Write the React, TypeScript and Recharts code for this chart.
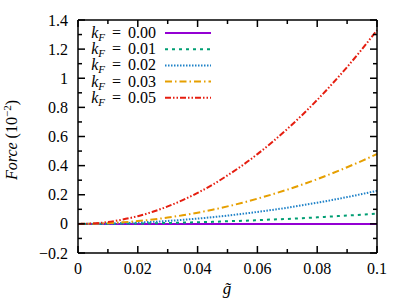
import React from "react";
import { LineChart, Line, XAxis, YAxis } from "recharts";

// g-tilde values and force curves (units of 1e-2)
const gValues = [0, 0.005, 0.01, 0.015, 0.02, 0.025, 0.03, 0.035, 0.04, 0.045, 0.05, 0.055, 0.06, 0.065, 0.07, 0.075, 0.08, 0.085, 0.09, 0.095, 0.1];
const force000 = [0, 0, 0, 0, 0, 0, 0, 0, 0, 0, 0, 0, 0, 0, 0, 0, 0, 0, 0, 0, 0];
const force001 = [0, 0, 0.001, 0.002, 0.003, 0.004, 0.006, 0.009, 0.011, 0.014, 0.018, 0.021, 0.025, 0.03, 0.034, 0.039, 0.045, 0.051, 0.057, 0.063, 0.07];
const force002 = [0, 0.001, 0.002, 0.005, 0.009, 0.014, 0.02, 0.028, 0.036, 0.046, 0.057, 0.069, 0.082, 0.096, 0.111, 0.128, 0.145, 0.164, 0.184, 0.205, 0.227];
const force003 = [0, 0.001, 0.005, 0.011, 0.019, 0.03, 0.043, 0.059, 0.077, 0.097, 0.12, 0.145, 0.173, 0.203, 0.235, 0.27, 0.307, 0.347, 0.389, 0.433, 0.48];
const force005 = [0, 0.003, 0.013, 0.03, 0.053, 0.083, 0.12, 0.163, 0.213, 0.269, 0.333, 0.402, 0.479, 0.562, 0.652, 0.748, 0.851, 0.961, 1.077, 1.2, 1.33];

const xMajor = [0, 0.02, 0.04, 0.06, 0.08, 0.1];
const xMinor = [0.01, 0.03, 0.05, 0.07, 0.09];
const yMajor = [-0.2, 0, 0.2, 0.4, 0.6, 0.8, 1, 1.2, 1.4];
const yMinor = [-0.1, 0.1, 0.3, 0.5, 0.7, 0.9, 1.1, 1.3];

const series = [
  { key: "k000", label: "0.00", values: force000, color: "#9400d3", dash: undefined },
  { key: "k001", label: "0.01", values: force001, color: "#009e73", dash: "3 4" },
  { key: "k002", label: "0.02", values: force002, color: "#1f82c8", dash: "1.5 1.5" },
  { key: "k003", label: "0.03", values: force003, color: "#e69f00", dash: "7 3 1.5 3" },
  { key: "k005", label: "0.05", values: force005, color: "#e51e10", dash: "6 2 1.5 2 1.5 2" },
];

const data = gValues.map((g, i) => {
  const row: Record<string, number> = { g };
  series.forEach((s) => {
    row[s.key] = s.values[i];
  });
  return row;
});

const FONT = "'Liberation Serif', 'DejaVu Serif', serif";
const W = 407;
const H = 305;
// plot box, matches the chart margins / axis sizes below
const PL = 78;
const PT = 20;
const PR = 377;
const PB = 253;
const X_DOMAIN = [0, 0.1];
const Y_DOMAIN = [-0.2, 1.4];
const sx = (v: number) => PL + ((v - X_DOMAIN[0]) / (X_DOMAIN[1] - X_DOMAIN[0])) * (PR - PL);
const sy = (v: number) => PB - ((v - Y_DOMAIN[0]) / (Y_DOMAIN[1] - Y_DOMAIN[0])) * (PB - PT);

const fmt = (v: number) => (v < 0 ? "\u2212" + String(-v) : String(v));

function BottomLabel(props: any) {
  const { x, y, payload } = props;
  return (
    <text x={x} y={y + 21} textAnchor="middle" fontSize={16} fontFamily={FONT} fill="#000">
      {fmt(payload.value)}
    </text>
  );
}

function LeftLabel(props: any) {
  const { x, y, payload } = props;
  return (
    <text x={x - 10} y={y + 5.5} textAnchor="end" fontSize={16} fontFamily={FONT} fill="#000">
      {fmt(payload.value)}
    </text>
  );
}

function YLabel() {
  return (
    <text
      transform="rotate(-90, 17, 140)"
      x={17}
      y={140}
      textAnchor="middle"
      fontSize={16}
      fontFamily={FONT}
      fill="#000"
    >
      <tspan fontStyle="italic">Force</tspan>
      <tspan> (10</tspan>
      <tspan fontSize={11} dy={-6}>{"\u2212"}2</tspan>
      <tspan dy={6}>)</tspan>
    </text>
  );
}

function XLabel() {
  return (
    <text x={227} y={294} textAnchor="middle" fontSize={17} fontFamily={FONT} fontStyle="italic" fill="#000">
      {"g\u0303"}
    </text>
  );
}

// one overlay: frame with inward mirrored ticks, plus the key
function Overlay() {
  return (
    <svg width={W} height={H} style={{ position: "absolute", left: 0, top: 0, pointerEvents: "none" }}>
      <g stroke="#000" strokeWidth={1.5}>
        {xMajor.concat(xMinor).map((v) => {
          const len = xMajor.includes(v) ? 7 : 4;
          const x = sx(v);
          return (
            <g key={"x" + v}>
              <line x1={x} x2={x} y1={PB} y2={PB - len} />
              <line x1={x} x2={x} y1={PT} y2={PT + len} />
            </g>
          );
        })}
        {yMajor.concat(yMinor).map((v) => {
          const len = yMajor.includes(v) ? 7 : 4;
          const y = sy(v);
          return (
            <g key={"y" + v}>
              <line x1={PL} x2={PL + len} y1={y} y2={y} />
              <line x1={PR} x2={PR - len} y1={y} y2={y} />
            </g>
          );
        })}
        <line x1={PL} x2={PR} y1={PT} y2={PT} />
        <line x1={PL} x2={PR} y1={PB} y2={PB} />
        <line x1={PL} x2={PL} y1={PT} y2={PB} />
        <line x1={PR} x2={PR} y1={PT} y2={PB} />
      </g>
      {series.map((s, i) => {
        const cy = 33 + i * 16.2;
        return (
          <g key={s.key}>
            <text x={156} y={cy + 5} textAnchor="end" fontSize={16} fontFamily={FONT} fill="#000">
              <tspan fontStyle="italic">k</tspan>
              <tspan fontStyle="italic" fontSize={11} dy={3}>F</tspan>
              <tspan dy={-3} dx={7}>=</tspan>
              <tspan dx={7}>{s.label}</tspan>
            </text>
            <line x1={165} x2={211} y1={cy} y2={cy} stroke={s.color} strokeWidth={2} strokeDasharray={s.dash} />
          </g>
        );
      })}
    </svg>
  );
}

export default function App() {
  return (
    <div style={{ position: "absolute", left: 0, top: 0, width: W, height: H, background: "#fff" }}>
      <LineChart width={W} height={H} data={data} margin={{ top: PT, right: W - PR, bottom: 0, left: 0 }}>
        <XAxis
          dataKey="g"
          type="number"
          domain={X_DOMAIN}
          ticks={xMajor}
          interval={0}
          height={H - PB}
          tickSize={0}
          tickMargin={0}
          tickLine={false}
          axisLine={false}
          tick={<BottomLabel />}
          label={<XLabel />}
        />
        <YAxis
          type="number"
          domain={Y_DOMAIN}
          ticks={yMajor}
          interval={0}
          width={PL}
          tickSize={0}
          tickMargin={0}
          tickLine={false}
          axisLine={false}
          tick={<LeftLabel />}
          label={<YLabel />}
        />
        {series.map((s) => (
          <Line
            key={s.key}
            dataKey={s.key}
            type="monotone"
            stroke={s.color}
            strokeWidth={2}
            strokeDasharray={s.dash}
            dot={false}
            isAnimationActive={false}
          />
        ))}
      </LineChart>
      <Overlay />
    </div>
  );
}
